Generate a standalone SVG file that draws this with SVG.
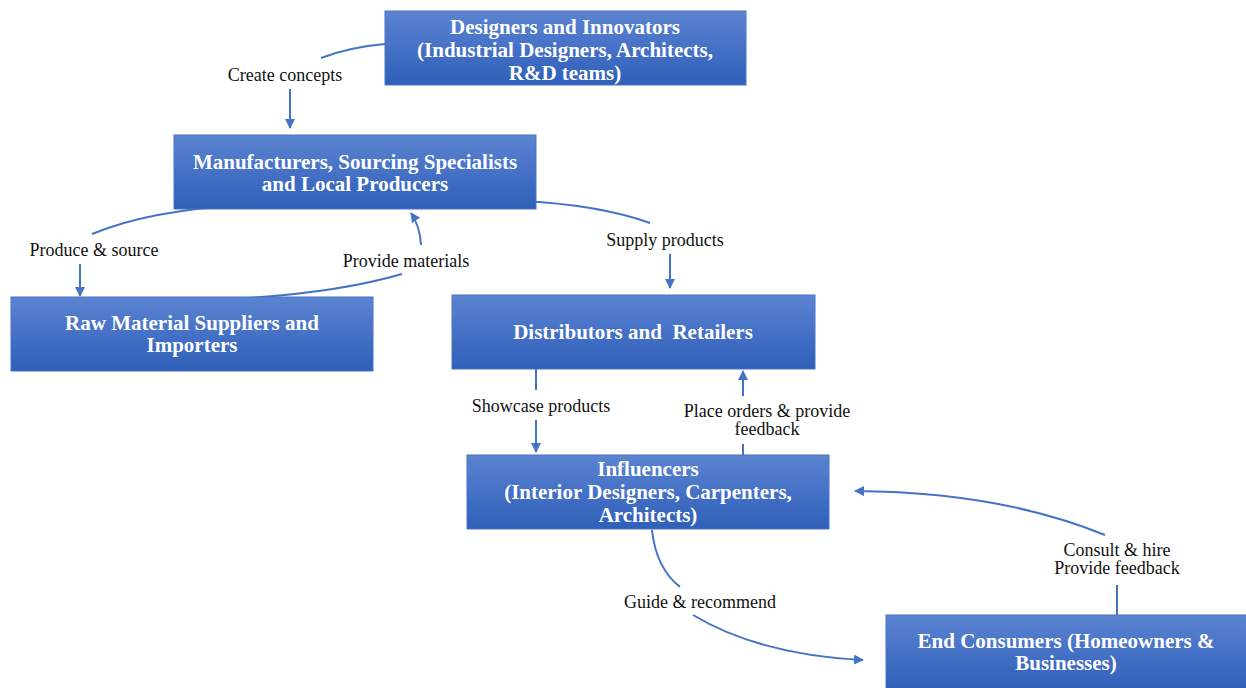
<svg xmlns="http://www.w3.org/2000/svg" width="1246" height="688" viewBox="0 0 1246 688">
  <defs>
    <linearGradient id="boxFill" x1="0" y1="0" x2="0" y2="1">
      <stop offset="0" stop-color="#5b84d0"/>
      <stop offset="0.5" stop-color="#4571c6"/>
      <stop offset="1" stop-color="#2f5fb8"/>
    </linearGradient>
    <marker id="arrow" viewBox="0 0 10 10" refX="9" refY="5" markerWidth="10" markerHeight="10" markerUnits="userSpaceOnUse" orient="auto">
      <path d="M0,0 L10,5 L0,10 z" fill="#4472c4"/>
    </marker>
    <style>
      .box { fill: url(#boxFill); stroke: #4a74c4; stroke-width: 1; }
      .ntext { font-family: "Liberation Serif", "Times New Roman", serif; font-weight: bold; font-size: 21px; fill: #ffffff; text-anchor: middle; white-space: pre; }
      .ltext { font-family: "Liberation Serif", "Times New Roman", serif; font-size: 18px; fill: #111111; text-anchor: middle; }
      .conn { fill: none; stroke: #4472c4; stroke-width: 2; }
      .arr { marker-end: url(#arrow); }
    </style>
  </defs>

  <!-- connectors -->
  <g id="connectors">
    <!-- designers -> manufacturers -->
    <path class="conn" d="M385,44 Q350,47 321,58"/>
    <path class="conn arr" d="M290,89 L290,128"/>
    <!-- manufacturers -> raw materials -->
    <path class="conn" d="M245,205 Q150,210 92,234"/>
    <path class="conn arr" d="M80,264 L80,296"/>
    <!-- raw materials -> manufacturers -->
    <path class="conn" d="M248,298 Q340,292 402,274"/>
    <path class="conn arr" d="M421,245 Q420,226 411,213"/>
    <!-- manufacturers -> distributors -->
    <path class="conn" d="M523,201 Q600,205 650,223"/>
    <path class="conn arr" d="M670,254 L670,288"/>
    <!-- distributors -> influencers -->
    <path class="conn" d="M536,369 L536,390"/>
    <path class="conn arr" d="M536,420 L536,452"/>
    <!-- influencers -> distributors -->
    <path class="conn" d="M743,455 L743,444"/>
    <path class="conn arr" d="M743,396 L743,371"/>
    <!-- influencers -> end consumers -->
    <path class="conn" d="M652,530 Q656,568 680,587"/>
    <path class="conn arr" d="M693,615 Q760,655 863,660"/>
    <!-- end consumers -> influencers -->
    <path class="conn" d="M1117,615 L1117,585"/>
    <path class="conn arr" d="M1105,535 Q1000,492 855,491"/>

    <text class="ltext" x="285" y="81">Create concepts</text>
    <text class="ltext" x="94" y="256">Produce &amp; source</text>
    <text class="ltext" x="406" y="267">Provide materials</text>
    <text class="ltext" x="665" y="246">Supply products</text>
    <text class="ltext" x="541" y="412">Showcase products</text>
    <text class="ltext" x="767" y="417">Place orders &amp; provide</text>
    <text class="ltext" x="767" y="435">feedback</text>
    <text class="ltext" x="700" y="608">Guide &amp; recommend</text>
    <text class="ltext" x="1117" y="556">Consult &amp; hire</text>
    <text class="ltext" x="1117" y="574">Provide feedback</text>
  </g>

  <g id="designers">
    <rect class="box" x="385" y="11" width="361" height="74"/>
    <text class="ntext" x="565" y="34">Designers and Innovators</text>
    <text class="ntext" x="565" y="57">(Industrial Designers, Architects,</text>
    <text class="ntext" x="565" y="80">R&amp;D teams)</text>
  </g>

  <g id="manufacturers">
    <rect class="box" x="174" y="135" width="362" height="74"/>
    <text class="ntext" x="355" y="169">Manufacturers, Sourcing Specialists</text>
    <text class="ntext" x="355" y="191">and Local Producers</text>
  </g>

  <g id="raw-materials">
    <rect class="box" x="11" y="297" width="362" height="74"/>
    <text class="ntext" x="192" y="330">Raw Material Suppliers and</text>
    <text class="ntext" x="192" y="352">Importers</text>
  </g>

  <g id="distributors">
    <rect class="box" x="452" y="295" width="363" height="74"/>
    <text class="ntext" x="633" y="339">Distributors and  Retailers</text>
  </g>

  <g id="influencers">
    <rect class="box" x="467" y="455" width="362" height="74"/>
    <text class="ntext" x="648" y="476">Influencers</text>
    <text class="ntext" x="648" y="499">(Interior Designers, Carpenters,</text>
    <text class="ntext" x="648" y="522">Architects)</text>
  </g>

  <g id="end-consumers">
    <rect class="box" x="886" y="615" width="361" height="75"/>
    <text class="ntext" x="1066" y="648">End Consumers (Homeowners &amp;</text>
    <text class="ntext" x="1066" y="670">Businesses)</text>
  </g>
</svg>
